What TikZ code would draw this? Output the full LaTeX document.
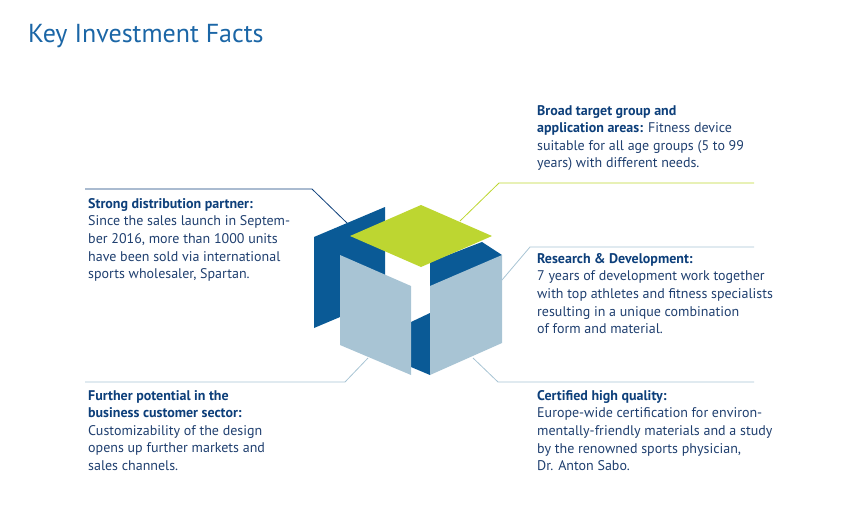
\documentclass[tikz,border=0pt]{standalone}
\usepackage{fontspec}
\setmainfont{PT Sans}
\definecolor{dk}{HTML}{0A5A96}
\definecolor{lt}{HTML}{A8C4D4}
\definecolor{gr}{HTML}{BDD631}
\definecolor{hd}{HTML}{0D3F7A}
\definecolor{tx}{HTML}{1F3F6F}
\definecolor{ttl}{HTML}{1B66A6}
\begin{document}
\begin{tikzpicture}[x=1pt,y=-1pt,
  txt/.style={anchor=north west,align=left,inner sep=0pt,font=\fontsize{14}{17.6}\selectfont,text=tx},
  lead/.style={line width=0.8pt}]
\useasboundingbox (0,0) rectangle (848,509);
\node[anchor=west,inner sep=0pt,text=ttl,font=\fontsize{26}{30}\selectfont] (title) at (28,36) {Key Investment Facts};
% leaders
\coordinate (a1) at (85,189); \coordinate (a2) at (312,189); \coordinate (a3) at (347,223);
\draw[lead,color=hd] (a1)--(a2)--(a3);
\coordinate (b1) at (754,183); \coordinate (b2) at (499,183); \coordinate (b3) at (460,221);
\draw[lead,color=gr] (b1)--(b2)--(b3);
\coordinate (c1) at (754,247); \coordinate (c2) at (530,247); \coordinate (c3) at (502,280);
\draw[lead,color=lt] (c1)--(c2)--(c3);
\coordinate (d1) at (85,382); \coordinate (d2) at (345,382); \coordinate (d3) at (368,358);
\draw[lead,color=lt] (d1)--(d2)--(d3);
\coordinate (e1) at (754,382); \coordinate (e2) at (498,382); \coordinate (e3) at (473,358);
\draw[lead,color=lt] (e1)--(e2)--(e3);
% cube
\fill[dk] (314,237)--(385,207)--(385,298)--(314,328)--cycle;
\fill[dk] (411,322)--(430,313)--(430,262)--(482,242)--(502,255)--(430,375)--(411,367)--cycle;
\fill[lt] (340,255)--(411,286)--(411,375)--(340,345)--cycle;
\fill[lt] (430,286)--(502,255)--(502,343)--(430,375)--cycle;
\fill[gr] (350,236)--(421,205)--(492,236)--(421,267)--cycle;
% texts
\node[txt] (t1) at (88,198) {\textbf{\color{hd}Strong distribution partner:}\\Since the sales launch in Septem-\\ber 2016, more than 1000 units\\have been sold via international\\sports wholesaler, Spartan.};
\node[txt] (t2) at (537,105) {\textbf{\color{hd}Broad target group and}\\\textbf{\color{hd}application areas:} Fitness device\\suitable for all age groups (5 to 99\\years) with different needs.};
\node[txt] (t3) at (537,253) {\textbf{\color{hd}Research \& Development:}\\7 years of development work together\\with top athletes and fitness specialists\\resulting in a unique combination\\of form and material.};
\node[txt] (t4) at (88,390) {\textbf{\color{hd}Further potential in the}\\\textbf{\color{hd}business customer sector:}\\Customizability of the design\\opens up further markets and\\sales channels.};
\node[txt] (t5) at (537,390) {\textbf{\color{hd}Certified high quality:}\\Europe-wide certification for environ-\\mentally-friendly materials and a study\\by the renowned sports physician,\\Dr. Anton Sabo.};
\end{tikzpicture}
\end{document}
